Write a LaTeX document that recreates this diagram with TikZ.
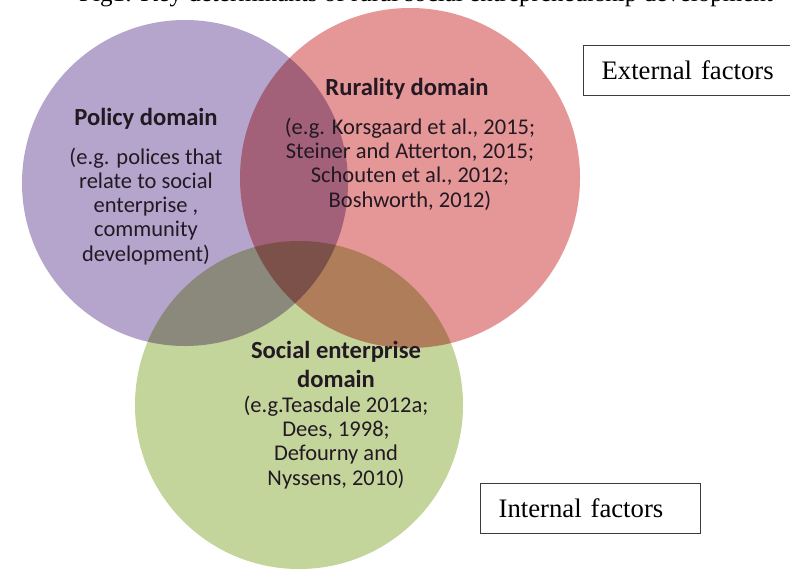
\documentclass[tikz,border=0pt]{standalone}
\usepackage{fontspec}
\setmainfont{Liberation Serif}
\setsansfont{Carlito}
\definecolor{policyPurple}{RGB}{181,165,204}
\definecolor{ruralRed}{RGB}{229,150,150}
\definecolor{socialGreen}{RGB}{196,213,156}
\definecolor{textDark}{RGB}{35,25,35}
\definecolor{boxGray}{RGB}{60,60,60}

\begin{document}
\begin{tikzpicture}[x=0.25mm, y=-0.25mm,
    domaincircle/.style={circle, inner sep=0pt, outer sep=0pt, draw=none},
    domaintitle/.style={anchor=base, text=textDark, font=\sffamily\bfseries\fontsize{17.5}{19}\selectfont, align=center, inner sep=0pt},
    domaintext/.style={anchor=base, text=textDark, font=\sffamily\fontsize{16}{17.2}\selectfont, align=center, inner sep=0pt},
    factorbox/.style={draw=boxGray, line width=0.9pt, anchor=north west, minimum width=55mm, minimum height=12.5mm, text width=46mm, inner xsep=4.5mm, align=left, font=\fontsize{19}{22}\selectfont}]
\useasboundingbox (0,0) rectangle (790,570);
\fill[white] (0,0) rectangle (790,570);

% the three domains
\begin{scope}[blend group=multiply]
  \node[domaincircle, fill=policyPurple, minimum size=81.5mm] (policy) at (185,183) {};
  \node[domaincircle, fill=ruralRed, minimum size=85mm] (rural) at (410,178) {};
  \node[domaincircle, fill=socialGreen, minimum size=82mm] (social) at (299,405) {};
\end{scope}

% title, cut at the top
\node[anchor=base, font=\fontsize{17.8}{20}\selectfont] (figtitle) at (426,1) {Fig1: Key determinants of rural social entrepreneurship development};

% labels (base = last line)
\node[domaintitle] (policyname) at (146,125) {Policy domain};
\node[domaintext] (policyrefs) at (146,261) {(e.g. polices that\\relate to social\\enterprise ,\\community\\development)};

\node[domaintitle] (ruralname) at (407,95) {Rurality domain};
\node[domaintext] (ruralrefs) at (410,207) {(e.g. Korsgaard et al., 2015;\\Steiner and Atterton, 2015;\\Schouten et al., 2012;\\Boshworth, 2012)};

\node[domaintitle, font=\sffamily\bfseries\fontsize{17.5}{20}\selectfont] (socialname) at (336,387) {Social enterprise\\domain};
\node[domaintext] (socialrefs) at (336,485) {(e.g.Teasdale 2012a;\\Dees, 1998;\\Defourny and\\Nyssens, 2010)};

% factor boxes
\node[factorbox] (external) at (583,45) {External factors};
\node[factorbox] (internal) at (480,483) {Internal factors};
\end{tikzpicture}
\end{document}
